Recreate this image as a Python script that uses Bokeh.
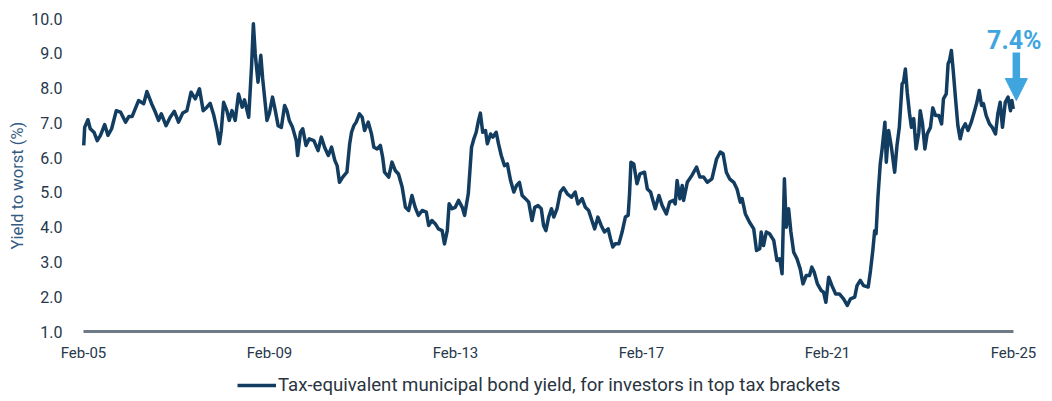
import datetime as dt
from bokeh.plotting import figure
from bokeh.models import (ColumnDataSource, Range1d, FixedTicker, DatetimeTickFormatter,
                          NumeralTickFormatter, Legend, LegendItem, Label, Arrow, NormalHead, Title)
from bokeh.embed import file_html
from bokeh.resources import INLINE

# ---------------- data ----------------
dates_dec = [
    2005.09, 2005.11, 2005.18, 2005.23, 2005.31, 2005.38, 2005.45, 2005.54, 2005.61, 2005.69, 2005.79, 2005.88, 2005.99,
    2006.06, 2006.13, 2006.27, 2006.38, 2006.45, 2006.55, 2006.63, 2006.70, 2006.76, 2006.86, 2006.95,
    2007.04, 2007.13, 2007.22, 2007.31, 2007.40, 2007.49, 2007.58, 2007.66, 2007.74, 2007.81, 2007.89, 2007.96,
    2008.01, 2008.05, 2008.10, 2008.17, 2008.22, 2008.28, 2008.35, 2008.42, 2008.50, 2008.55, 2008.64, 2008.70, 2008.74, 2008.78, 2008.84, 2008.90, 2008.94,
    2009.03, 2009.08, 2009.15, 2009.21, 2009.27, 2009.34, 2009.41, 2009.46, 2009.51, 2009.58, 2009.66, 2009.69, 2009.75, 2009.80, 2009.87, 2009.94,
    2010.04, 2010.13, 2010.20, 2010.27, 2010.35, 2010.42, 2010.49, 2010.54, 2010.59, 2010.66, 2010.75, 2010.81, 2010.85, 2010.90, 2010.95,
    2011.02, 2011.08, 2011.13, 2011.21, 2011.28, 2011.33, 2011.40, 2011.47, 2011.52, 2011.56, 2011.65, 2011.72, 2011.79, 2011.86, 2011.94,
    2012.01, 2012.08, 2012.15, 2012.22, 2012.29, 2012.37, 2012.46, 2012.51, 2012.58, 2012.65, 2012.72, 2012.80, 2012.85, 2012.91, 2012.95,
    2013.01, 2013.08, 2013.15, 2013.23, 2013.28, 2013.36, 2013.39, 2013.43, 2013.48, 2013.53, 2013.58, 2013.62, 2013.67, 2013.73, 2013.77, 2013.84, 2013.89, 2013.96,
    2014.01, 2014.07, 2014.14, 2014.20, 2014.27, 2014.34, 2014.40, 2014.46, 2014.52, 2014.59, 2014.66, 2014.73, 2014.79, 2014.86, 2014.93, 2014.98,
    2015.03, 2015.09, 2015.15, 2015.20, 2015.27, 2015.34, 2015.41, 2015.49, 2015.58, 2015.66, 2015.72, 2015.81, 2015.88, 2015.95,
    2016.02, 2016.08, 2016.15, 2016.22, 2016.29, 2016.37, 2016.42, 2016.47, 2016.52, 2016.60, 2016.67, 2016.74, 2016.80, 2016.83, 2016.86, 2016.92, 2016.99,
    2017.05, 2017.15, 2017.21, 2017.28, 2017.34, 2017.38, 2017.46, 2017.53, 2017.62, 2017.69, 2017.77, 2017.81, 2017.85, 2017.91, 2017.96, 2017.99,
    2018.07, 2018.17, 2018.27, 2018.34, 2018.42, 2018.50, 2018.60, 2018.70, 2018.78, 2018.84, 2018.91, 2018.98,
    2019.07, 2019.14, 2019.21, 2019.25, 2019.32, 2019.41, 2019.50, 2019.56, 2019.63, 2019.66, 2019.71, 2019.77, 2019.84, 2019.93,
    2020.00, 2020.06, 2020.11, 2020.16, 2020.20, 2020.25, 2020.30, 2020.36, 2020.43, 2020.50, 2020.56, 2020.63, 2020.70, 2020.75, 2020.80, 2020.87, 2020.95,
    2021.00, 2021.05, 2021.11, 2021.18, 2021.26, 2021.34, 2021.43, 2021.51, 2021.58, 2021.67, 2021.72, 2021.79, 2021.86, 2021.96,
    2022.01, 2022.06, 2022.10, 2022.13, 2022.17, 2022.22, 2022.26, 2022.32, 2022.35, 2022.40, 2022.46, 2022.53, 2022.58, 2022.63, 2022.69, 2022.72, 2022.76, 2022.80, 2022.85, 2022.89, 2022.94, 2022.99,
    2023.05, 2023.08, 2023.13, 2023.18, 2023.23, 2023.30, 2023.35, 2023.41, 2023.48, 2023.54, 2023.58, 2023.64, 2023.68, 2023.71, 2023.75, 2023.79, 2023.84, 2023.89, 2023.94, 2023.99,
    2024.05, 2024.11, 2024.18, 2024.25, 2024.30, 2024.35, 2024.40, 2024.44, 2024.50, 2024.57, 2024.63, 2024.70, 2024.75, 2024.80, 2024.85, 2024.91, 2024.97,
    2025.02, 2025.05, 2025.08,
]

yield_pct = [
    6.35, 6.87, 7.09, 6.83, 6.73, 6.49, 6.64, 6.95, 6.64, 6.83, 7.35, 7.31, 7.02,
    7.18, 7.18, 7.64, 7.55, 7.90, 7.55, 7.31, 7.07, 7.26, 6.92, 7.16,
    7.33, 7.02, 7.28, 7.35, 7.88, 7.69, 7.98, 7.35, 7.45, 7.56, 7.21, 6.78,
    6.40, 6.78, 7.59, 7.35, 7.07, 7.35, 7.07, 7.83, 7.45, 7.66, 7.16, 8.60, 9.85, 8.98, 8.17, 8.94, 8.27,
    7.07, 7.26, 7.74, 7.35, 6.92, 6.87, 7.50, 7.35, 7.07, 6.87, 6.49, 6.06, 6.73, 6.83, 6.35, 6.54,
    6.49, 6.20, 6.59, 6.30, 6.06, 6.30, 5.92, 5.77, 5.29, 5.44, 5.58, 6.40, 6.73, 6.92, 7.02,
    7.26, 7.16, 6.78, 7.02, 6.68, 6.30, 6.25, 6.35, 6.01, 5.58, 5.44, 5.87, 5.63, 5.53, 5.15,
    4.57, 4.48, 4.91, 4.57, 4.34, 4.48, 4.43, 4.05, 4.19, 4.10, 3.95, 3.90, 3.52, 3.90, 4.67,
    4.53, 4.57, 4.77, 4.57, 4.34, 4.96, 5.53, 6.30, 6.54, 6.73, 7.07, 7.28, 6.73, 6.78, 6.40, 6.68, 6.59, 6.73,
    6.40, 6.06, 5.77, 5.82, 5.34, 5.01, 5.20, 5.29, 4.91, 4.82, 4.72, 4.19, 4.57, 4.62, 4.53, 4.05,
    3.90, 4.29, 4.53, 4.29, 4.53, 5.01, 5.13, 4.96, 4.86, 5.01, 4.67, 4.82, 4.57, 4.48,
    4.19, 3.95, 4.29, 4.05, 3.86, 3.95, 3.67, 3.43, 3.52, 3.52, 3.86, 4.29, 4.34, 4.96, 5.87, 5.82, 5.25,
    5.53, 5.58, 5.10, 5.01, 4.72, 4.53, 4.91, 4.62, 4.38, 4.72, 4.77, 4.67, 5.34, 4.82, 5.20, 4.77,
    5.29, 5.49, 5.73, 5.44, 5.44, 5.29, 5.39, 5.96, 6.16, 6.11, 5.58, 5.39,
    5.29, 5.10, 4.72, 4.82, 4.38, 4.14, 3.95, 3.33, 3.38, 3.86, 3.47, 3.86, 3.81, 3.62,
    3.04, 3.09, 2.66, 5.39, 4.00, 4.53, 3.86, 3.28, 3.09, 2.80, 2.37, 2.61, 2.61, 2.85, 2.71, 2.37, 2.18,
    2.13, 1.84, 2.56, 2.32, 2.08, 2.08, 1.94, 1.75, 1.94, 1.99, 2.32, 2.47, 2.32, 2.28,
    2.75, 3.33, 3.90, 3.81, 4.86, 5.82, 6.25, 7.02, 5.87, 6.78, 6.30, 5.58, 6.35, 6.87, 8.12, 8.17, 8.55, 7.88, 7.26, 6.87, 7.12, 6.25,
    6.73, 7.35, 6.97, 6.25, 6.68, 6.87, 7.43, 7.21, 7.21, 6.97, 7.69, 7.83, 8.70, 8.79, 9.08, 8.50, 7.69, 6.92, 6.54, 6.83,
    6.97, 6.78, 7.02, 7.35, 7.59, 7.93, 7.50, 7.55, 7.21, 6.97, 6.87, 6.68, 7.26, 7.59, 6.87, 7.59, 7.74,
    7.35, 7.64, 7.40,
]

tick_years = [2005, 2009, 2013, 2017, 2021, 2025]
tick_labels = ["Feb-05", "Feb-09", "Feb-13", "Feb-17", "Feb-21", "Feb-25"]
y_ticks = [1.0, 2.0, 3.0, 4.0, 5.0, 6.0, 7.0, 8.0, 9.0, 10.0]
series_label = "Tax-equivalent municipal bond yield, for investors in top tax brackets"
y_title = "Yield to worst (%)"
callout_text = "7.4%"

# ---------------- helpers ----------------
EPOCH = dt.datetime(1970, 1, 1)


def to_date(t):
    y = int(t)
    return dt.datetime(y, 1, 1) + dt.timedelta(days=(t - y) * 365.25)


def to_ms(d):
    return (d - EPOCH).total_seconds() * 1000.0


dates = [to_date(t) for t in dates_dec]
source = ColumnDataSource(dict(date=dates, value=yield_pct))

tick_dates = [dt.datetime(y, 2, 1) for y in tick_years]
tick_ms = [to_ms(d) for d in tick_dates]

FONT = "Roboto"
NAVY = "#123d60"
BLUE = "#3ea5de"
AXIS_GRAY = "#6e7a86"
TEXT = "#26384b"

# ---------------- layout geometry (canvas pixels) ----------------
W, H = 1044, 396
FRAME_LEFT = 27       # left border (holds the rotated y title)
TOP_Y = 18            # pixel row of y = 10.0
BASE_Y = 331          # pixel row of y = 1.0 baseline
DATA_X0 = 83          # first tick (Feb-05)
PX_PER_YEAR = 46.5

px_per_unit = (BASE_Y - TOP_Y) / (y_ticks[-1] - y_ticks[0])
y_lo = y_ticks[0] - (H - BASE_Y) / px_per_unit          # frame runs to the canvas bottom
y_hi = y_ticks[-1] + TOP_Y / px_per_unit                 # and to the canvas top
span_years = tick_years[-1] - tick_years[0]
x_start = tick_dates[0] - dt.timedelta(days=(DATA_X0 - FRAME_LEFT) / PX_PER_YEAR * 365.25)
x_end = tick_dates[-1] + dt.timedelta(days=(W - DATA_X0 - PX_PER_YEAR * span_years) / PX_PER_YEAR * 365.25)

p = figure(width=W, height=H, x_axis_type="datetime",
           x_range=Range1d(x_start, x_end),
           y_range=Range1d(y_lo, y_hi),
           output_backend="svg", toolbar_location=None,
           min_border_left=FRAME_LEFT, min_border_right=0, min_border_top=0, min_border_bottom=0)

p.outline_line_color = None
p.xgrid.visible = False
p.ygrid.visible = False
p.background_fill_color = "white"
p.border_fill_color = "white"

# baseline from first to last tick
p.segment(x0=[tick_dates[0]], y0=[y_ticks[0]], x1=[tick_dates[-1]], y1=[y_ticks[0]],
          line_color=AXIS_GRAY, line_width=3)

r = p.line("date", "value", source=source, line_color=NAVY, line_width=3.5, line_join="round")

# y axis drawn at the first date (takes no panel space)
yax = p.yaxis[0]
yax.fixed_location = tick_ms[0]
yax.ticker = FixedTicker(ticks=y_ticks)
yax.formatter = NumeralTickFormatter(format="0.0")
yax.axis_line_color = None
yax.major_tick_line_color = None
yax.minor_tick_line_color = None
yax.major_label_standoff = 15
yax.major_label_text_font = FONT
yax.major_label_text_font_size = "16px"
yax.major_label_text_color = TEXT

p.add_layout(Title(text=y_title, align="left", vertical_align="middle", offset=H - 249, standoff=0,
                   text_font=FONT, text_font_style="normal", text_font_size="16.5px",
                   text_color="#335b82"), "left")

# x axis drawn at the 1.0 baseline (takes no panel space)
xax = p.xaxis[0]
xax.fixed_location = y_ticks[0]
xax.ticker = FixedTicker(ticks=tick_ms)
fmt = "%b-%y"
xax.formatter = DatetimeTickFormatter(years=fmt, months=fmt, days=fmt, hours=fmt, hourmin=fmt,
                                      minutes=fmt, minsec=fmt, seconds=fmt, milliseconds=fmt,
                                      microseconds=fmt)
xax.axis_line_color = None
xax.major_tick_line_color = None
xax.minor_tick_line_color = None
xax.major_label_standoff = 6
xax.major_label_text_font = FONT
xax.major_label_text_font_size = "15px"
xax.major_label_text_color = TEXT

# legend under the axis, inside the frame
legend = Legend(items=[LegendItem(label=series_label, renderers=[r])],
                location=(237 - FRAME_LEFT, H - 396), orientation="horizontal",
                padding=0, margin=0, spacing=0,
                glyph_width=39, glyph_height=18, label_height=18, label_standoff=2,
                label_text_font=FONT, label_text_font_size="18.6px",
                label_text_color="#2a3440",
                border_line_color=None, background_fill_alpha=0)
p.add_layout(legend)

# call-out for the latest value
last_date = dates[-1]
last_val = yield_pct[-1]
arrow_x = last_date + dt.timedelta(days=24)
p.add_layout(Arrow(x_start=arrow_x, y_start=last_val + 1.62, x_end=arrow_x, y_end=last_val + 0.24,
                   line_color=BLUE, line_width=7.5,
                   end=NormalHead(size=22, fill_color=BLUE, line_color=BLUE, line_width=1)))
p.add_layout(Label(x=arrow_x, y=last_val + 1.97, x_offset=-2, text=callout_text, text_align="center",
                   text_baseline="alphabetic",
                   text_font=FONT, text_font_style="bold", text_font_size="25px",
                   text_color=BLUE))

open("out.html", "w").write(file_html(p, INLINE))
